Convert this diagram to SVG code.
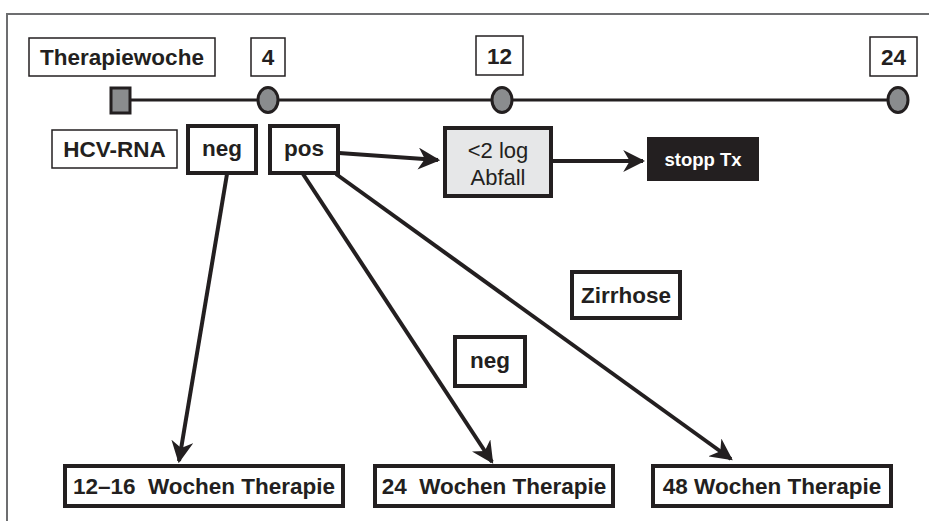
<svg xmlns="http://www.w3.org/2000/svg" width="929" height="521" viewBox="0 0 929 521">
<style>
text{font-family:"Liberation Sans",Arial,Helvetica,sans-serif;font-weight:bold;fill:#231f20;text-anchor:middle}
.thin{fill:#fff;stroke:#231f20;stroke-width:1.5}
.thick{fill:#fff;stroke:#231f20;stroke-width:4}
.t{font-size:22.5px}
.c{stroke:#231f20;stroke-width:4;fill:none}
.tl{stroke:#231f20;stroke-width:3;fill:none}
.mk{fill:#8a8c8e;stroke:#231f20;stroke-width:3}
</style>
<defs>
<marker id="ah" viewBox="0 0 10 10" refX="9" refY="5" markerWidth="5.5" markerHeight="5.5" orient="auto" markerUnits="strokeWidth">
<path d="M0,0 L10,5 L0,10 L3,5 Z" fill="#231f20"/>
</marker>
</defs>
<rect width="929" height="521" fill="#fff"/>
<path d="M7,521 V14 H929" fill="none" stroke="#6d6e70" stroke-width="2"/>
<g id="timeline">
<line class="tl" x1="120" y1="100" x2="898" y2="100"/>
<rect class="mk" x="111" y="88" width="19" height="25"/>
<ellipse class="mk" cx="268" cy="100" rx="10" ry="12.5"/>
<ellipse class="mk" cx="502" cy="100" rx="10" ry="12.5"/>
<ellipse class="mk" cx="898" cy="100" rx="10" ry="12.5"/>
</g>
<g id="connectors">
<line class="c" x1="339" y1="153" x2="438" y2="160" marker-end="url(#ah)"/>
<line class="c" x1="551" y1="161" x2="643" y2="161" marker-end="url(#ah)"/>
<line class="c" x1="227" y1="174" x2="179" y2="461" marker-end="url(#ah)"/>
<line class="c" x1="303" y1="174" x2="492" y2="462" marker-end="url(#ah)"/>
<line class="c" x1="336" y1="174" x2="731" y2="459" marker-end="url(#ah)"/>
</g>
<g id="therapiewoche"><rect class="thin" x="29" y="38" width="186" height="38"/><text class="t" x="122" y="65">Therapiewoche</text></g>
<g id="w4"><rect class="thin" x="251" y="38" width="34" height="38"/><text class="t" x="268" y="65">4</text></g>
<g id="w12"><rect class="thin" x="476" y="36" width="47" height="39"/><text class="t" x="499.5" y="64">12</text></g>
<g id="w24"><rect class="thin" x="870" y="37" width="47" height="39"/><text class="t" x="893.5" y="65">24</text></g>
<g id="hcvrna"><rect class="thin" x="52" y="130" width="125" height="38"/><text class="t" x="114.5" y="157">HCV-RNA</text></g>
<g id="neg1"><rect class="thick" x="188" y="126" width="68" height="47"/><text class="t" x="222" y="156">neg</text></g>
<g id="pos"><rect class="thick" x="270" y="126" width="68" height="47"/><text class="t" x="304" y="156">pos</text></g>
<g id="abfall"><rect x="445" y="128" width="106" height="68" fill="#e6e7e8" stroke="#231f20" stroke-width="4"/><text x="498" y="158" style="font-weight:normal;font-size:22px">&lt;2 log</text><text x="498" y="185" style="font-weight:normal;font-size:22px">Abfall</text></g>
<g id="stopp"><rect x="647" y="137" width="112" height="44" fill="#231f20"/><text x="703" y="166" style="fill:#fff;font-size:18.5px">stopp Tx</text></g>
<g id="zirrhose"><rect class="thick" x="572" y="272" width="108" height="46"/><text class="t" x="626" y="303">Zirrhose</text></g>
<g id="neg2"><rect class="thick" x="455" y="337" width="70" height="49"/><text class="t" x="490" y="368">neg</text></g>
<g id="t1216"><rect class="thick" x="65" y="466" width="278" height="40"/><text class="t" x="204" y="494" xml:space="preserve">12–16  Wochen Therapie</text></g>
<g id="t24"><rect class="thick" x="375" y="466" width="238" height="40"/><text class="t" x="494" y="494" xml:space="preserve">24  Wochen Therapie</text></g>
<g id="t48"><rect class="thick" x="653" y="466" width="238" height="40"/><text class="t" x="772" y="494">48 Wochen Therapie</text></g>
</svg>
